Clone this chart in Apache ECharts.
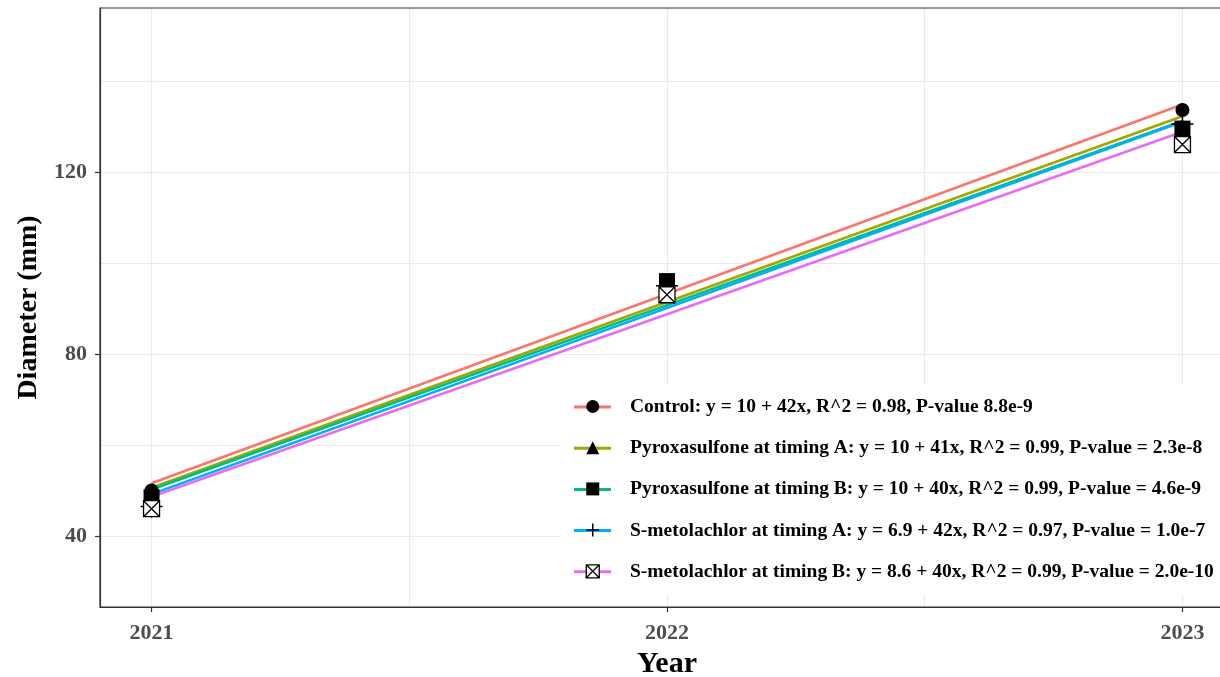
<!DOCTYPE html>
<html>
<head>
<meta charset="utf-8">
<script src="https://cdn.jsdelivr.net/npm/echarts@6/dist/echarts.min.js"></script>
<style>html,body{margin:0;padding:0;background:#fff}#c{width:1220px;height:677px}</style>
</head>
<body>
<div id="c"></div>
<script>
// ---- data ----
const years = [2021, 2022, 2023];
const labels = [
  'Control: y = 10 + 42x, R^2 = 0.98, P-value 8.8e-9',
  'Pyroxasulfone at timing A: y = 10 + 41x, R^2 = 0.99, P-value = 2.3e-8',
  'Pyroxasulfone at timing B: y = 10 + 40x, R^2 = 0.99, P-value = 4.6e-9',
  'S-metolachlor at timing A: y = 6.9 + 42x, R^2 = 0.97, P-value = 1.0e-7',
  'S-metolachlor at timing B: y = 8.6 + 40x, R^2 = 0.99, P-value = 2.0e-10'
];
const ptsControl = [50, 95, 133.6];
const ptsPyroxA  = [49, 95, 130];
const ptsPyroxB  = [48.5, 96, 129.5];
const ptsSmetA   = [46.5, 95, 130.5];
const ptsSmetB   = [46, 93, 126];
// fitted line end points (at 2021 and 2023)
const fitYears = [2021, 2023];
const fitControl = [51.6, 134.8];
const fitPyroxA  = [50.6, 132.2];
const fitPyroxB  = [50.2, 131.2];
const fitSmetA   = [49.2, 131.0];
const fitSmetB   = [48.6, 128.8];
// ticks / grid
const xTicks = [2021, 2022, 2023];
const yTicks = [40, 80, 120];
const xGrid = [2021, 2021.5, 2022, 2022.5, 2023];
const yGrid = [40, 60, 80, 100, 120, 140];

const colors = ['#F8766D', '#A3A500', '#00BF7D', '#00B0F6', '#E76BF3'];
const pts = [ptsControl, ptsPyroxA, ptsPyroxB, ptsSmetA, ptsSmetB];
const fits = [fitControl, fitPyroxA, fitPyroxB, fitSmetA, fitSmetB];
const plusPath = 'path://M5 0 L5 10 M0 5 L10 5';
const boxXPath = 'path://M0 0 L10 0 L10 10 L0 10 Z M0 0 L10 10 M10 0 L0 10';
const symbols = ['circle', 'triangle', 'rect', plusPath, boxXPath];
const symSizes = [14, [16, 14], 16, 22, 16];
const symStyles = [
  {color: '#000', opacity: 1}, {color: '#000', opacity: 1}, {color: '#000', opacity: 1},
  {color: 'rgba(0,0,0,0)', borderColor: '#000', borderWidth: 1.5, opacity: 1},
  {color: '#fff', borderColor: '#000', borderWidth: 1.3, opacity: 1}
];
const FONT = '"Liberation Serif", "Times New Roman", serif';

const series = [];
// gridlines via markLine
series.push({
  type: 'line', data: [], silent: true, z: 0,
  markLine: {
    silent: true, z: 0, symbol: 'none', label: {show: false},
    lineStyle: {color: '#EBEBEB', width: 1.2, type: 'solid'},
    data: xGrid.map(v => ({xAxis: v})).concat(yGrid.map(v => ({yAxis: v})))
  }
});
for (let i = 0; i < 5; i++) {
  series.push({
    name: labels[i], type: 'line', z: 3,
    data: fitYears.map((y, k) => [y, fits[i][k]]),
    symbol: 'none', color: colors[i],
    lineStyle: {color: colors[i], width: 2.6}
  });
}
for (let i = 0; i < 5; i++) {
  series.push({
    name: labels[i] + '\u200b', type: 'scatter', z: 5,
    data: years.map((y, k) => [y, pts[i][k]]),
    symbol: symbols[i], symbolSize: symSizes[i],
    itemStyle: symStyles[i]
  });
}

const legendText = {fontFamily: FONT, fontWeight: 'bold', fontSize: 19.5, lineHeight: 22, color: '#000', padding: [0, 0, 0, 14]};

const chart = echarts.init(document.getElementById('c'), null, {renderer: 'canvas'});
chart.setOption({
  animation: false,
  backgroundColor: '#fff',
  grid: {left: 100, top: 8, width: 1134, height: 599, outerBoundsMode: 'none', containLabel: false,
         show: true, borderColor: '#333', borderWidth: 1.2, backgroundColor: 'rgba(0,0,0,0)', z: 10},
  xAxis: {
    type: 'value', min: 2020.9, max: 2023.1,
    name: 'Year', nameLocation: 'middle', nameGap: 42,
    nameTextStyle: {fontFamily: FONT, fontWeight: 'bold', fontSize: 30, color: '#000'},
    axisLine: {show: true, lineStyle: {color: '#333', width: 1.2}},
    axisTick: {show: true, customValues: xTicks, length: 5, lineStyle: {color: '#333', width: 1.2}},
    axisLabel: {customValues: xTicks, fontFamily: FONT, fontWeight: 'bold', fontSize: 22, color: '#4D4D4D', margin: 15, formatter: v => String(v)},
    splitLine: {show: false}
  },
  yAxis: {
    type: 'value', min: 24.4, max: 156,
    name: 'Diameter (mm)', nameLocation: 'middle', nameGap: 54,
    nameTextStyle: {fontFamily: FONT, fontWeight: 'bold', fontSize: 28, color: '#000'},
    axisLine: {show: true, lineStyle: {color: '#333', width: 1.2}},
    axisTick: {show: true, customValues: yTicks, length: 5, lineStyle: {color: '#333', width: 1.2}},
    axisLabel: {customValues: yTicks, fontFamily: FONT, fontWeight: 'bold', fontSize: 22, color: '#4D4D4D', margin: 13},
    splitLine: {show: false}
  },
  legend: [
    {
      orient: 'vertical', left: 560, top: 385, itemGap: 19.2,
      padding: [11, 20, 12, 14], backgroundColor: '#fff', z: 8,
      selectedMode: false, textStyle: legendText,
      itemWidth: 37, itemHeight: 3, icon: 'rect',
      data: labels.map((l, i) => ({name: l, itemStyle: {color: colors[i]}}))
    },
    {
      orient: 'vertical', left: 585.5, top: 395.5, itemGap: 19.2,
      padding: 0, z: 9,
      selectedMode: false,
      textStyle: Object.assign({}, legendText, {color: 'rgba(0,0,0,0)'}),
      itemWidth: 13, itemHeight: 13,
      data: labels.map((l, i) => ({name: l + '\u200b', icon: symbols[i], itemStyle: symStyles[i]}))
    }
  ],
  series: series
});
</script>
</body>
</html>
